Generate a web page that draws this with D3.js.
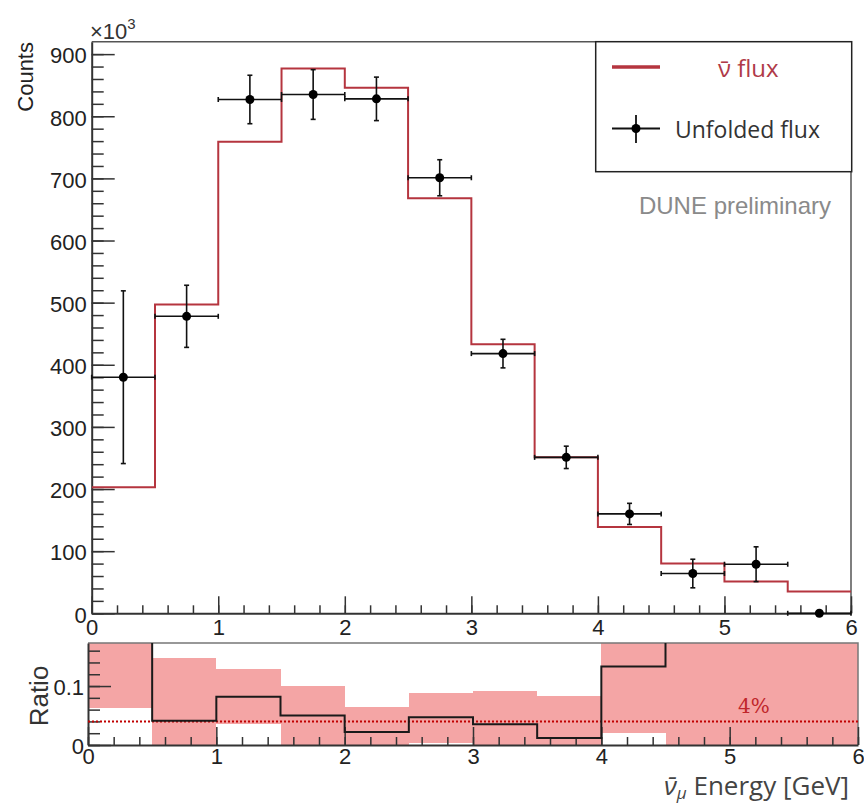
<!DOCTYPE html>
<html>
<head>
<meta charset="utf-8">
<script src="https://cdn.jsdelivr.net/npm/d3@7"></script>
<style>
  body { margin: 0; background: #fff; }
  svg { display: block; }
</style>
</head>
<body>
<svg width="864" height="806"></svg>
<script>
// bin edges of the energy histogram (GeV)
var binLow = [0, 0.5, 1, 1.5, 2, 2.5, 3, 3.5, 4, 4.5, 5, 5.5];
var binHigh = [0.5, 1, 1.5, 2, 2.5, 3, 3.5, 4, 4.5, 5, 5.5, 6];

// true anti-nu flux (x10^3 counts)
var fluxTrue = [203, 497, 759, 877, 846, 668, 433, 251, 139, 80, 51, 35];
// unfolded flux and its error (x10^3 counts)
var unfolded = [380, 478, 827, 835, 828, 701, 418, 251, 160, 64, 79, 0];
var unfoldedErr = [139, 50, 39, 40, 35, 29, 23, 18, 17, 23, 28, 0];

// ratio panel: |unfolded-true|/true and its band
var ratio = [0.87, 0.041, 0.082, 0.050, 0.022, 0.047, 0.035, 0.012, 0.133, 0.20, 0.55, 1.0];
var ratioLow = [0.062, 0, 0.036, 0, 0, 0.004, 0, 0, 0.021, 0, 0, 0];
var ratioHigh = [1.5, 0.148, 0.129, 0.100, 0.065, 0.088, 0.092, 0.083, 0.30, 0.50, 1.1, 2.0];
var ratioRef = 0.04;

var xTicks = [0, 1, 2, 3, 4, 5, 6];
var yTicks = [0, 100, 200, 300, 400, 500, 600, 700, 800, 900];

var svg = d3.select("svg");
var tickFont = "'Liberation Sans', Arial, sans-serif";
var redLine = "#b5353f";

// ---------- main panel ----------
var x = d3.scaleLinear().domain([0, 6]).range([91.7, 851]);
var y = d3.scaleLinear().domain([0, 920]).range([613.3, 41.7]);

svg.append("defs").append("clipPath").attr("id", "clipMain")
   .append("rect").attr("x", x(0)).attr("y", y(920))
   .attr("width", x(6) - x(0)).attr("height", y(0) - y(920));

// frame (top and right)
svg.append("path")
   .attr("d", "M" + x(0) + "," + y(920) + "H" + x(6) + "V" + y(0))
   .attr("fill", "none").attr("stroke", "#555").attr("stroke-width", 1.5);

// minor ticks
svg.append("g").attr("transform", "translate(" + x(0) + ",0)")
   .call(d3.axisLeft(y).tickValues(d3.range(0, 920, 20)).tickSizeInner(-12).tickSizeOuter(0).tickFormat(""))
   .call(function(g){ g.select(".domain").remove(); g.selectAll("line").attr("stroke", "#333").attr("stroke-width", 1.5); });
svg.append("g").attr("transform", "translate(0," + y(0) + ")")
   .call(d3.axisBottom(x).tickValues(d3.range(0, 6.01, 0.2)).tickSizeInner(-8).tickSizeOuter(0).tickFormat(""))
   .call(function(g){ g.select(".domain").remove(); g.selectAll("line").attr("stroke", "#333").attr("stroke-width", 1.5); });

// major ticks with labels
var yAxis = svg.append("g").attr("transform", "translate(" + x(0) + ",0)")
   .call(d3.axisLeft(y).tickValues(yTicks).tickSizeInner(-23).tickSizeOuter(0).tickPadding(5));
var xAxis = svg.append("g").attr("transform", "translate(0," + y(0) + ")")
   .call(d3.axisBottom(x).tickValues(xTicks).tickSizeInner(-17).tickSizeOuter(0).tickPadding(4)
         .tickFormat(d3.format("d")));
[yAxis, xAxis].forEach(function(g){
  g.select(".domain").attr("stroke", "#333").attr("stroke-width", 2);
  g.selectAll("line").attr("stroke", "#333").attr("stroke-width", 1.5);
  g.selectAll("text").attr("font-family", tickFont).attr("font-size", 22).attr("fill", "#222");
});
yAxis.selectAll("text").attr("dy", "0.4em");
xAxis.selectAll("text").attr("dy", "0.8em");

// true flux histogram
var stepLine = d3.line()
  .x(function(d){ return x(d[0]); })
  .y(function(d){ return y(d[1]); })
  .curve(d3.curveStepAfter);
var histPts = binLow.map(function(b, i){ return [b, fluxTrue[i]]; });
histPts.push([binHigh[binHigh.length - 1], fluxTrue[fluxTrue.length - 1]]);
svg.append("path").datum(histPts)
   .attr("clip-path", "url(#clipMain)")
   .attr("d", stepLine)
   .attr("fill", "none").attr("stroke", redLine).attr("stroke-width", 2);

// unfolded points with error bars
var pts = svg.append("g").selectAll("g")
  .data(unfolded.map(function(v, i){
    return { lo: binLow[i], hi: binHigh[i], c: (binLow[i] + binHigh[i]) / 2, v: v, e: unfoldedErr[i] };
  }))
  .enter().append("g")
  .attr("stroke", "#111").attr("stroke-width", 1.6);
pts.append("line")
   .attr("x1", function(d){ return x(d.lo); }).attr("x2", function(d){ return x(d.hi); })
   .attr("y1", function(d){ return y(d.v); }).attr("y2", function(d){ return y(d.v); });
pts.append("line")
   .attr("x1", function(d){ return x(d.c); }).attr("x2", function(d){ return x(d.c); })
   .attr("y1", function(d){ return y(d.v + d.e); }).attr("y2", function(d){ return y(d.v - d.e); });
// end caps
pts.each(function(d){
  var g = d3.select(this);
  if (d.e > 0) {
    [d.v + d.e, d.v - d.e].forEach(function(v){
      g.append("line").attr("x1", x(d.c) - 2.5).attr("x2", x(d.c) + 2.5)
       .attr("y1", y(v)).attr("y2", y(v));
    });
  }
  [d.lo, d.hi].forEach(function(e){
    g.append("line").attr("x1", x(e)).attr("x2", x(e))
     .attr("y1", y(d.v) - 2.5).attr("y2", y(d.v) + 2.5);
  });
});
pts.append("circle")
   .attr("cx", function(d){ return x(d.c); }).attr("cy", function(d){ return y(d.v); })
   .attr("r", 4.5).attr("fill", "#000").attr("stroke", "none");

// axis titles
svg.append("text").attr("transform", "translate(33,42) rotate(-90)")
   .attr("text-anchor", "end").attr("font-family", tickFont).attr("font-size", 22).attr("fill", "#222")
   .text("Counts");
var expo = svg.append("text").attr("x", 90).attr("y", 39)
   .attr("font-family", tickFont).attr("font-size", 22).attr("fill", "#333");
expo.append("tspan").text("\u00d710");
expo.append("tspan").attr("dy", -10).attr("font-size", 15).text("3");

// legend
svg.append("rect").attr("x", 595.7).attr("y", 41.7).attr("width", 256).attr("height", 130)
   .attr("fill", "#fff").attr("stroke", "#222").attr("stroke-width", 1.5);
svg.append("line").attr("x1", 612).attr("x2", 660).attr("y1", 67).attr("y2", 67)
   .attr("stroke", redLine).attr("stroke-width", 3.5);
svg.append("text").attr("x", 718).attr("y", 77)
   .attr("font-family", "'Open Sans', sans-serif").attr("font-size", 24).attr("fill", "#b03a48")
   .text("\u03bd\u0304 flux");
var lg = svg.append("g").attr("stroke", "#111").attr("stroke-width", 1.8);
lg.append("line").attr("x1", 612).attr("x2", 660).attr("y1", 128.5).attr("y2", 128.5);
lg.append("line").attr("x1", 636).attr("x2", 636).attr("y1", 115).attr("y2", 143);
lg.append("circle").attr("cx", 636).attr("cy", 128.5).attr("r", 4.5).attr("fill", "#000").attr("stroke", "none");
svg.append("text").attr("x", 675).attr("y", 138)
   .attr("font-family", "'Open Sans', sans-serif").attr("font-size", 23).attr("fill", "#333")
   .text("Unfolded flux");

svg.append("text").attr("x", 831).attr("y", 214).attr("text-anchor", "end")
   .attr("font-family", tickFont).attr("font-size", 24).attr("fill", "#8a8a8a")
   .text("DUNE preliminary");

// ---------- ratio panel ----------
var rx = d3.scaleLinear().domain([0, 6]).range([88, 858]);
var ry = d3.scaleLinear().domain([0, 0.173]).range([745, 643]);

svg.select("defs").append("clipPath").attr("id", "clipRatio")
   .append("rect").attr("x", rx(0)).attr("y", ry(0.173))
   .attr("width", rx(6) - rx(0)).attr("height", ry(0) - ry(0.173));

var rp = svg.append("g").attr("clip-path", "url(#clipRatio)");
rp.selectAll("rect.band")
  .data(binLow.map(function(b, i){ return { lo: b, hi: binHigh[i], a: ratioLow[i], b: ratioHigh[i] }; }))
  .enter().append("rect").attr("class", "band")
  .attr("x", function(d){ return Math.round(rx(d.lo)); })
  .attr("width", function(d){ return Math.round(rx(d.hi)) - Math.round(rx(d.lo)); })
  .attr("y", function(d){ return ry(d.b); })
  .attr("height", function(d){ return ry(d.a) - ry(d.b); })
  .attr("shape-rendering", "crispEdges")
  .attr("fill", "#f4a5a5");

// frame top and right
svg.append("path")
   .attr("d", "M" + rx(0) + "," + ry(0.173) + "H" + rx(6) + "V" + ry(0))
   .attr("fill", "none").attr("stroke", "#777").attr("stroke-width", 1.5);

svg.append("g").attr("transform", "translate(" + rx(0) + ",0)")
   .call(d3.axisLeft(ry).tickValues(d3.range(0, 0.17, 0.02)).tickSizeInner(-12).tickSizeOuter(0).tickFormat(""))
   .call(function(g){ g.select(".domain").remove(); g.selectAll("line").attr("stroke", "#333").attr("stroke-width", 1.5); });
svg.append("g").attr("transform", "translate(0," + ry(0) + ")")
   .call(d3.axisBottom(rx).tickValues(d3.range(0, 6.01, 0.2)).tickSizeInner(-8).tickSizeOuter(0).tickFormat(""))
   .call(function(g){ g.select(".domain").remove(); g.selectAll("line").attr("stroke", "#333").attr("stroke-width", 1.5); });

var ryAxis = svg.append("g").attr("transform", "translate(" + rx(0) + ",0)")
   .call(d3.axisLeft(ry).tickValues([0, 0.1]).tickSizeInner(-23).tickSizeOuter(0).tickPadding(4)
         .tickFormat(function(d){ return d === 0 ? "0" : d3.format(".1f")(d); }));
var rxAxis = svg.append("g").attr("transform", "translate(0," + ry(0) + ")")
   .call(d3.axisBottom(rx).tickValues(xTicks).tickSizeInner(-18).tickSizeOuter(0).tickPadding(3)
         .tickFormat(d3.format("d")));
[ryAxis, rxAxis].forEach(function(g){
  g.select(".domain").attr("stroke", "#333").attr("stroke-width", 2);
  g.selectAll("line").attr("stroke", "#333").attr("stroke-width", 1.5);
  g.selectAll("text").attr("font-family", tickFont).attr("font-size", 22).attr("fill", "#222");
});
ryAxis.selectAll("text").attr("dy", "0.4em");
rxAxis.selectAll("text").attr("dy", "0.72em");

// 4% reference line
svg.append("line").attr("x1", rx(0)).attr("x2", rx(6)).attr("y1", ry(ratioRef)).attr("y2", ry(ratioRef))
   .attr("stroke", "#c00000").attr("stroke-width", 2).attr("stroke-dasharray", "2,2");
svg.append("text").attr("x", 738).attr("y", 713)
   .attr("font-family", "'DejaVu Serif', 'Liberation Serif', serif").attr("font-size", 20).attr("fill", "#c0262b")
   .text("4%");

// ratio step line
var rStep = d3.line()
  .x(function(d){ return rx(d[0]); })
  .y(function(d){ return ry(d[1]); })
  .curve(d3.curveStepAfter);
var rPts = binLow.map(function(b, i){ return [b, ratio[i]]; });
rPts.push([6, ratio[ratio.length - 1]]);
svg.append("path").datum(rPts)
   .attr("clip-path", "url(#clipRatio)")
   .attr("d", rStep)
   .attr("fill", "none").attr("stroke", "#1a1a1a").attr("stroke-width", 2);

svg.append("text").attr("transform", "translate(48,696) rotate(-90)")
   .attr("text-anchor", "middle").attr("font-family", tickFont).attr("font-size", 26).attr("fill", "#333")
   .text("Ratio");

var xt = svg.append("text").attr("x", 849).attr("y", 795).attr("text-anchor", "end")
   .attr("font-family", "'Open Sans', sans-serif").attr("font-size", 26).attr("fill", "#444");
xt.append("tspan").attr("font-style", "italic").text("\u03bd\u0304");
xt.append("tspan").attr("font-style", "italic").attr("font-size", 17).attr("dy", 4).text("\u03bc");
xt.append("tspan").attr("dy", -4).text(" Energy [GeV]");
</script>
</body>
</html>
